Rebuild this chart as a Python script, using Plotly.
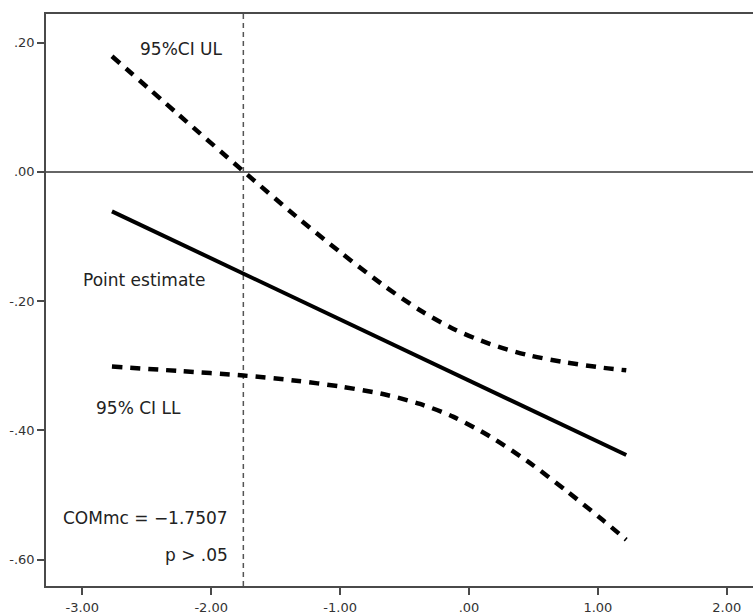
import plotly.graph_objects as go

# ---- data ----
ci_x = [-2.77, -2.25, -1.75, -1.34, -1.00, -0.66, -0.38, -0.12, 0.16, 0.45, 0.76, 1.04, 1.22]
ci_upper = [0.179, 0.088, 0.001, -0.069, -0.124, -0.176, -0.214, -0.243, -0.266, -0.283, -0.295, -0.303, -0.307]
ci_lower = [-0.301, -0.308, -0.315, -0.323, -0.332, -0.344, -0.359, -0.379, -0.409, -0.447, -0.494, -0.539, -0.569]
est_x = [-2.77, 1.22]
est_y = [-0.061, -0.438]
commc = -1.7507

x_tickvals = [-3, -2, -1, 0, 1, 2]
x_ticktext = ["-3.00", "-2.00", "-1.00", ".00", "1.00", "2.00"]
y_tickvals = [0.2, 0.0, -0.2, -0.4, -0.6]
y_ticktext = [".20", ".00", "-.20", "-.40", "-.60"]

FONT = "DejaVu Sans"
AX = "#4a4a4a"

fig = go.Figure()
ci_line = dict(color="black", width=4.5, dash="10px,8px", shape="spline", smoothing=0.8)
fig.add_trace(go.Scatter(x=ci_x, y=ci_upper, mode="lines", line=ci_line, showlegend=False, hoverinfo="skip"))
fig.add_trace(go.Scatter(x=ci_x, y=ci_lower, mode="lines", line=ci_line, showlegend=False, hoverinfo="skip"))
fig.add_trace(go.Scatter(x=est_x, y=est_y, mode="lines", line=dict(color="black", width=4), showlegend=False, hoverinfo="skip"))

fig.add_shape(type="line", xref="x", yref="paper", x0=commc, x1=commc, y0=0, y1=1,
              line=dict(color="#555555", width=1.5, dash="5px,4px"), layer="below")

ann_font = dict(family=FONT, size=17, color="#222222")
fig.add_annotation(x=-2.227, y=0.1906, text="95%CI UL", showarrow=False, font=ann_font)
fig.add_annotation(x=-2.521, y=-0.1672, text="Point estimate", showarrow=False, font=ann_font)
fig.add_annotation(x=-2.566, y=-0.3656, text="95% CI LL", showarrow=False, font=ann_font)
fig.add_annotation(x=-1.854, y=-0.5359, text="COMmc = \u22121.7507", showarrow=False, xanchor="right", font=ann_font)
fig.add_annotation(x=-1.854, y=-0.592, text="p &gt; .05", showarrow=False, xanchor="right", font=ann_font)

fig.update_layout(
    width=753, height=615,
    margin=dict(l=46, r=0, t=14, b=24),
    plot_bgcolor="white", paper_bgcolor="white",
    font=dict(family=FONT, size=13, color="#333333"),
    xaxis=dict(range=[-3.2816, 2.2032], tickvals=x_tickvals, ticktext=x_ticktext,
               showgrid=False, zeroline=False, showline=True, linecolor=AX, linewidth=1.5,
               mirror=True, ticks="outside", ticklen=7, tickwidth=1.5, tickcolor=AX,
               ticklabelstandoff=2,
               tickfont=dict(family=FONT, size=13, color="#333333")),
    yaxis=dict(range=[-0.6406, 0.2443], tickvals=y_tickvals, ticktext=y_ticktext,
               showgrid=False, zeroline=True, zerolinecolor="#666666", zerolinewidth=1.5,
               showline=True, linecolor=AX, linewidth=1.5,
               ticks="outside", ticklen=7, tickwidth=1.5, tickcolor=AX,
               tickfont=dict(family=FONT, size=13, color="#333333")),
)

fig.write_html("out.html")
